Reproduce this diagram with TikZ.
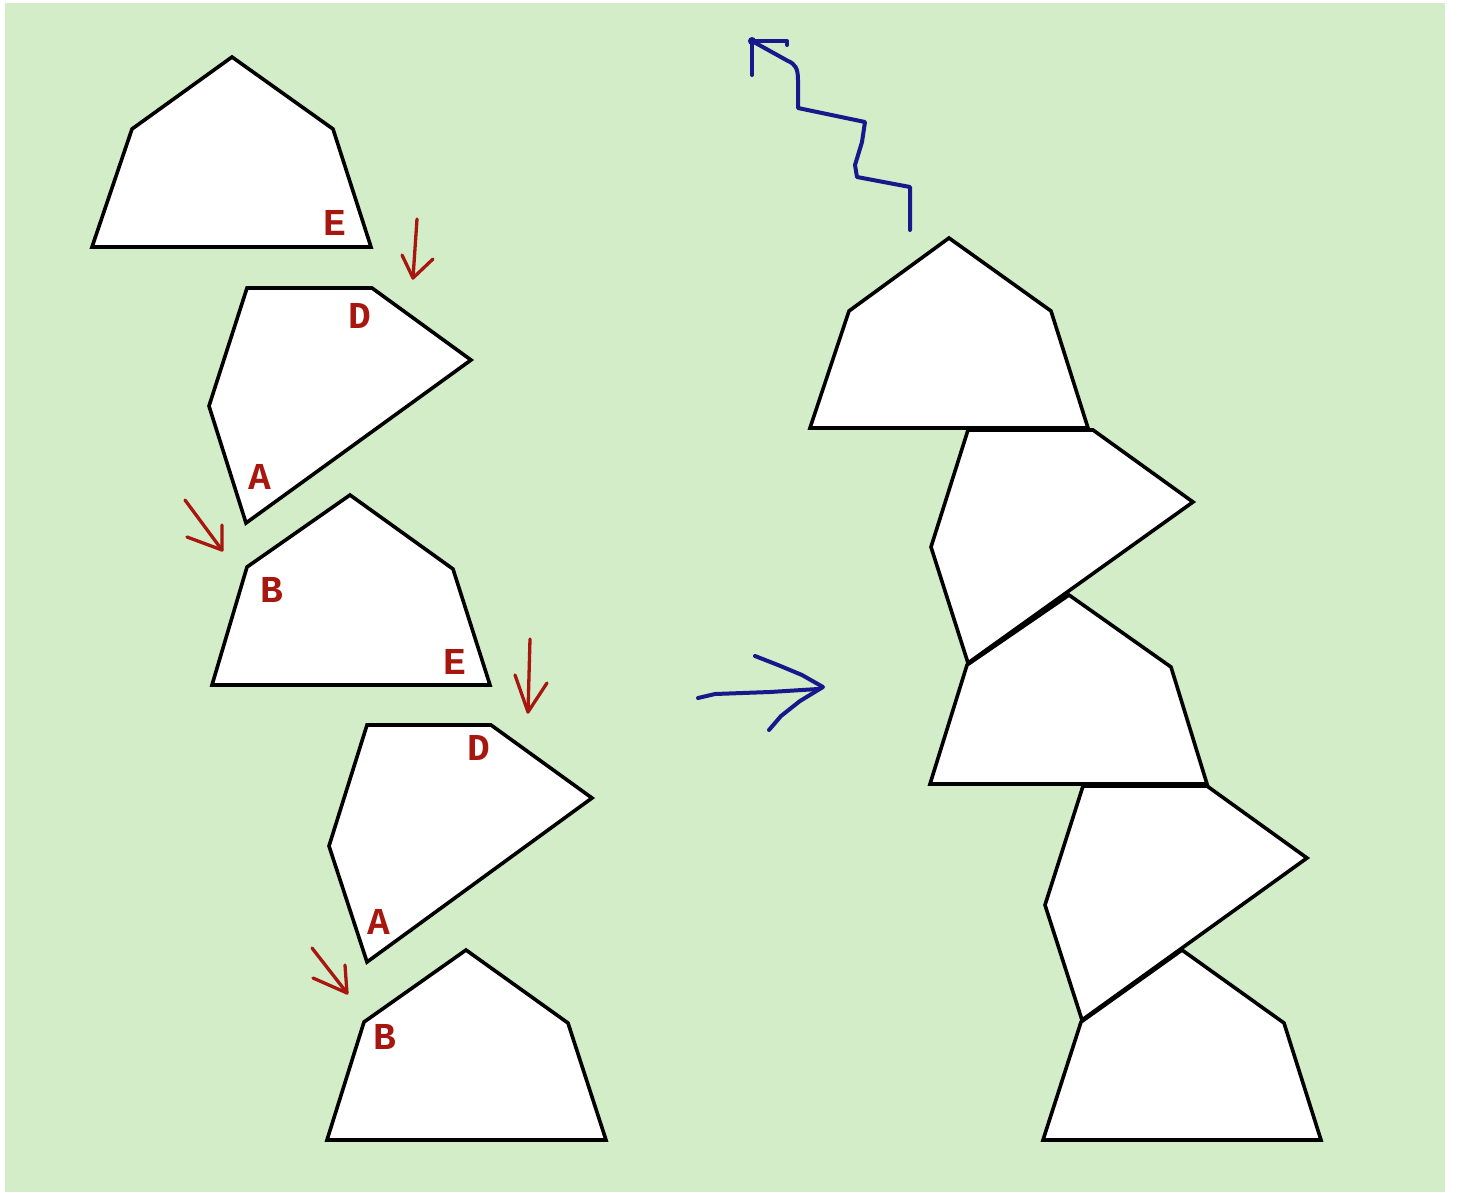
\documentclass[tikz,border=0pt]{standalone}
\usepackage{fontspec}
\newfontfamily\lblfont{Liberation Mono}
\definecolor{bg}{RGB}{210,237,200}
\definecolor{lblred}{RGB}{168,22,16}
\definecolor{inkblue}{RGB}{22,24,140}
\begin{document}
\begin{tikzpicture}[x=1pt,y=-1pt,
  block/.style={draw=black, fill=white, line width=3.6pt, line join=miter},
  lbl/.style={text=lblred, font=\lblfont\bfseries\fontsize{38}{38}\selectfont, inner sep=0pt},
  redink/.style={draw=lblred, line width=3.3pt, line cap=round, line join=round},
  blueink/.style={draw=inkblue, line width=4pt, line cap=round, line join=round}]
\useasboundingbox (0,0) rectangle (1457,1192);
\fill[bg] (5,3) rectangle (1445,1192);

% left column
\draw[block] (92,247) -- (132,129) -- (232,57) -- (333,129) -- (371,247) -- cycle;
\draw[block] (247,288) -- (372,288) -- (471,360) -- (246,523) -- (209,406) -- cycle;
\draw[block] (212,685) -- (247,567) -- (350,495) -- (453,569) -- (490,685) -- cycle;
\draw[block] (367,725) -- (491,725) -- (592,798) -- (367,962) -- (329,846) -- cycle;
\draw[block] (327,1140) -- (364,1022) -- (466,950) -- (568,1023) -- (606,1140) -- cycle;

% right stack
\draw[block] (810,428) -- (849,311) -- (949,238) -- (1051,311) -- (1088,428) -- cycle;
\draw[block] (968,430) -- (1093,430) -- (1193,502) -- (968,663) -- (931,547) -- cycle;
\draw[block] (930,784) -- (967,665) -- (1069,595) -- (1171,667) -- (1207,784) -- cycle;
\draw[block] (1083,786) -- (1207,786) -- (1307,858) -- (1082,1020) -- (1045,905) -- cycle;
\draw[block] (1043,1140) -- (1081,1022) -- (1182,950) -- (1284,1023) -- (1321,1140) -- cycle;

% labels
\node[lbl] (e1) at (335,223) {E};
\node[lbl] (d1) at (360,316) {D};
\node[lbl] (a1) at (260,477) {A};
\node[lbl] (b1) at (272,590) {B};
\node[lbl] (e2) at (455,662) {E};
\node[lbl] (d2) at (479,748) {D};
\node[lbl] (a2) at (379,922) {A};
\node[lbl] (b2) at (385,1037) {B};

% red hand-drawn arrows
\draw[redink] (417,219) -- (413,278);
\draw[redink] (402,255) -- (413,278) -- (433,259);
\draw[redink] (185,500) -- (222,550);
\draw[redink] (222,525) -- (222,550) -- (187,537);
\draw[redink] (530,639) -- (528,712);
\draw[redink] (515,675) -- (528,712) -- (547,683);
\draw[redink] (312,948) -- (347,993);
\draw[redink] (345,965) -- (347,993) -- (313,978);

% blue arrow to the right
\draw[blueink] (698,698) -- (715,694) -- (770,692) -- (818,689);
\draw[blueink] (755,656) -- (778,665) -- (802,675) -- (823,687) -- (800,701) -- (781,716) -- (769,730);

% blue squiggle arrow
\draw[blueink] (910,230) -- (910,187) -- (857,177) -- (855,165) -- (862,142) -- (865,122)
  -- (798,108) -- (798,80) .. controls (798,68) and (795,64) .. (788,61) -- (752,41);
\draw[blueink] (752,75) -- (752,41) -- (787,41) -- (787,45);
\fill[inkblue] (752,41) circle (4);
\end{tikzpicture}
\end{document}
